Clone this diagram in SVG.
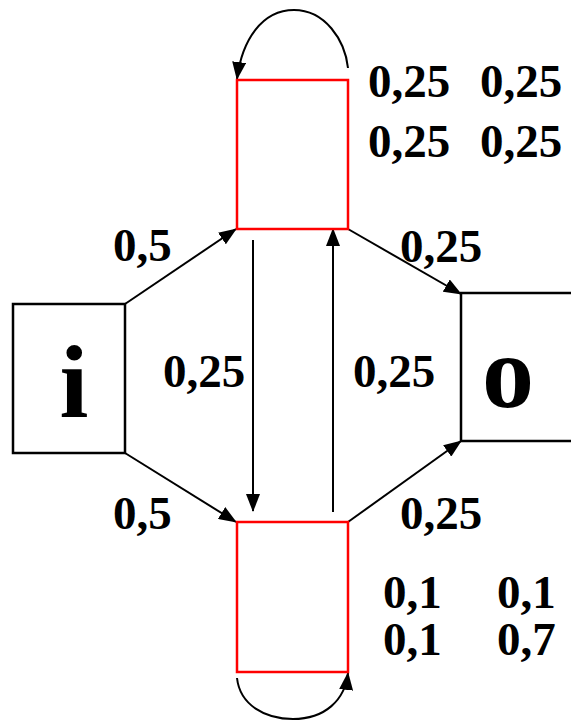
<svg xmlns="http://www.w3.org/2000/svg" width="571" height="721" viewBox="0 0 571 721">
<defs>
<marker id="ah" viewBox="0 0 18 14" refX="17" refY="7" markerWidth="18" markerHeight="14" markerUnits="userSpaceOnUse" orient="auto">
<path d="M0,0 L18,7 L0,14 Z" fill="#000"/>
</marker>
<style>
.lbl{font-family:"Liberation Serif","Times New Roman",serif;font-weight:bold;font-size:47px;fill:#000}
.big{font-family:"Liberation Serif","Times New Roman",serif;font-weight:bold;font-size:104px;fill:#000;text-anchor:middle}
.box{fill:#fff;stroke:#000;stroke-width:2.5}
.red{fill:#fff;stroke:#f00;stroke-width:2.5}
.c{fill:none;stroke:#000;stroke-width:2;marker-end:url(#ah)}
</style>
</defs>
<rect width="571" height="721" fill="#fff"/>
<g id="connectors">
<path class="c" d="M125,304 L236,229"/>
<path class="c" d="M125,453 L236,522"/>
<path class="c" d="M348,229 L461,294"/>
<path class="c" d="M348,522 L461,441"/>
<path class="c" d="M253,240 L253,511"/>
<path class="c" d="M333,512 L333,229"/>
<path class="c" d="M348,68 C345,40 325,10 294,10 C262,10 242,40 237,79"/>
<path class="c" d="M237,678 C240,705 265,719 293,719 C325,719 345,700 348,673"/>
</g>
<g id="node-i">
<rect class="box" x="13" y="304" width="112" height="149"/>
<text class="big" x="74" y="417">i</text>
</g>
<g id="node-o">
<rect class="box" x="461" y="293" width="115" height="148"/>
<text class="big" x="508" y="407">o</text>
</g>
<g id="node-top">
<rect class="red" x="237" y="80" width="111" height="149"/>
</g>
<g id="node-bottom">
<rect class="red" x="237" y="522" width="111" height="150"/>
</g>
<g id="labels">
<text class="lbl" x="368" y="97">0,25</text>
<text class="lbl" x="480" y="97">0,25</text>
<text class="lbl" x="368" y="157">0,25</text>
<text class="lbl" x="480" y="157">0,25</text>
<text class="lbl" x="113" y="261">0,5</text>
<text class="lbl" x="400" y="262">0,25</text>
<text class="lbl" x="163" y="387">0,25</text>
<text class="lbl" x="353" y="387">0,25</text>
<text class="lbl" x="113" y="529">0,5</text>
<text class="lbl" x="400" y="529">0,25</text>
<text class="lbl" x="383" y="608">0,1</text>
<text class="lbl" x="497" y="608">0,1</text>
<text class="lbl" x="383" y="655">0,1</text>
<text class="lbl" x="497" y="655">0,7</text>
</g>
</svg>
